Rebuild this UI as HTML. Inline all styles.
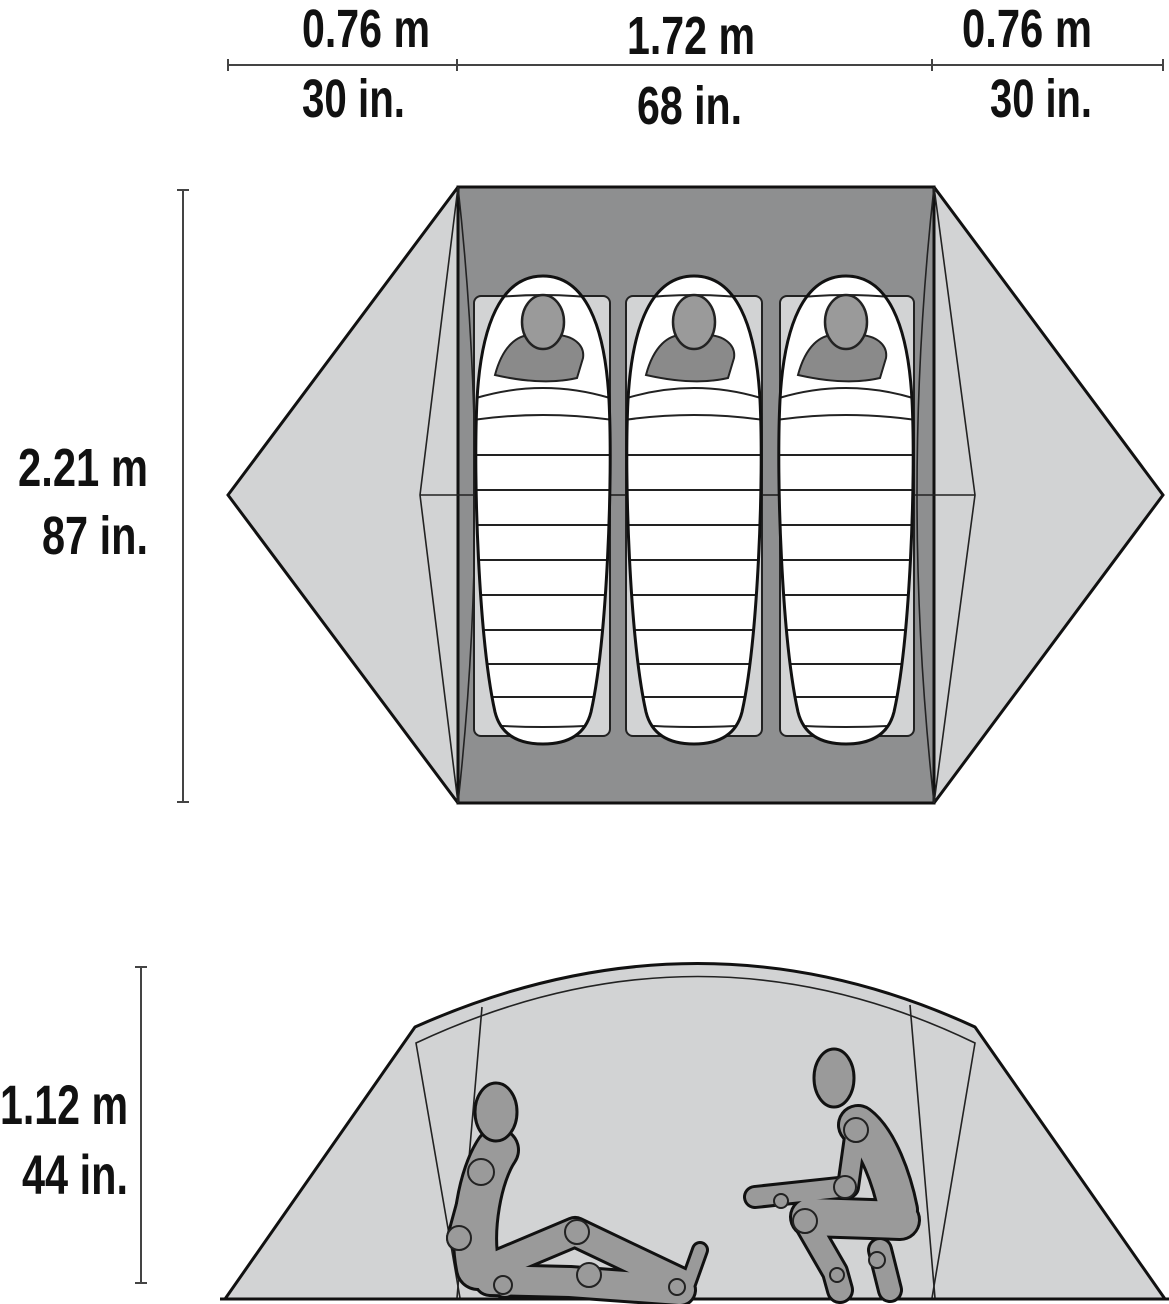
<!DOCTYPE html>
<html><head><meta charset="utf-8"><style>
html,body{margin:0;padding:0;background:#fff;}
svg{display:block;}
text{font-family:"Liberation Sans Narrow","Liberation Sans",sans-serif;font-weight:bold;fill:#111;}
</style></head><body>
<svg width="1169" height="1304" viewBox="0 0 1169 1304" xmlns="http://www.w3.org/2000/svg">
<defs>
<path id="bag" d="M0,276 C42,276 62,325 66,400 C70,480 64,640 48,712 Q40,744 0,744 Q-40,744 -48,712 C-64,640 -70,480 -66,400 C-62,325 -42,276 0,276 Z"/>
<clipPath id="bc" clipPathUnits="userSpaceOnUse"><use href="#bag"/></clipPath>
<g id="bagg">
  <use href="#bag" fill="#fff"/>
  <g clip-path="url(#bc)" stroke="#222" stroke-width="2" fill="none">
    <path d="M-70,300 Q0,290 70,300"/>
    <path d="M-70,420 Q0,410 70,420"/>
    <path d="M-70,455 L70,455"/>
    <path d="M-70,490 L70,490"/>
    <path d="M-70,525 L70,525"/>
    <path d="M-70,560 L70,560"/>
    <path d="M-70,595 L70,595"/>
    <path d="M-70,630 L70,630"/>
    <path d="M-70,664 L70,664"/>
    <path d="M-70,697 L70,697"/>
    <path d="M-70,724 Q0,730 70,724"/>
    <path d="M-48,375 C-40,345 -25,335 -12,335 L12,335 C30,335 42,345 40,358 L34,378 Q0,386 -48,375 Z" fill="#8a8a8a"/>
    <path d="M-67,398 Q0,378 67,398" />
  </g>
  <ellipse cx="0" cy="322" rx="21" ry="27" fill="#9a9a9a" stroke="#222" stroke-width="2.5"/>
  <use href="#bag" fill="none" stroke="#111" stroke-width="3"/>
</g>
</defs>

<g stroke="#444" stroke-width="2" fill="none">
<line x1="228" y1="65" x2="1163" y2="65"/>
<line x1="228" y1="59" x2="228" y2="71"/><line x1="457" y1="59" x2="457" y2="71"/>
<line x1="932" y1="59" x2="932" y2="71"/><line x1="1163" y1="59" x2="1163" y2="71"/>
<line x1="183" y1="190" x2="183" y2="802"/>
<line x1="177" y1="190" x2="189" y2="190"/><line x1="177" y1="802" x2="189" y2="802"/>
<line x1="141" y1="967" x2="141" y2="1283"/>
<line x1="135" y1="967" x2="147" y2="967"/><line x1="135" y1="1283" x2="147" y2="1283"/>
</g>
<text x="302" y="47" font-size="54" textLength="128" lengthAdjust="spacingAndGlyphs">0.76 m</text>
<text x="302" y="117" font-size="54" textLength="103" lengthAdjust="spacingAndGlyphs">30 in.</text>
<text x="627" y="54" font-size="54" textLength="128" lengthAdjust="spacingAndGlyphs">1.72 m</text>
<text x="637" y="124" font-size="54" textLength="105" lengthAdjust="spacingAndGlyphs">68 in.</text>
<text x="962" y="47" font-size="54" textLength="130" lengthAdjust="spacingAndGlyphs">0.76 m</text>
<text x="990" y="117" font-size="54" textLength="102" lengthAdjust="spacingAndGlyphs">30 in.</text>
<text x="18" y="486" font-size="54" textLength="130" lengthAdjust="spacingAndGlyphs">2.21 m</text>
<text x="42" y="554" font-size="54" textLength="106" lengthAdjust="spacingAndGlyphs">87 in.</text>
<text x="0" y="1124" font-size="56" textLength="128" lengthAdjust="spacingAndGlyphs">1.12 m</text>
<text x="22" y="1194" font-size="56" textLength="106" lengthAdjust="spacingAndGlyphs">44 in.</text>

<polygon points="228,495 458,187 934,187 1163,495 934,803 458,803" fill="#d2d3d4" stroke="#111" stroke-width="3"/>
<rect x="458" y="187" width="476" height="616" fill="#8e8f90" stroke="#111" stroke-width="3"/>
<g stroke="#222" stroke-width="1.6" fill="none">
<path d="M458,187 L420,495 L458,803"/>
<path d="M934,187 L975,495 L934,803"/>
<path d="M458,187 Q492,495 458,803"/>
<path d="M934,187 Q900,495 934,803"/>
<line x1="420" y1="495" x2="975" y2="495"/>
</g>
<g fill="#d2d3d4" stroke="#222" stroke-width="2">
<rect x="474" y="296" width="136" height="440" rx="7"/>
<rect x="626" y="296" width="136" height="440" rx="7"/>
<rect x="780" y="296" width="134" height="440" rx="7"/>
</g>
<line x1="474" y1="495" x2="914" y2="495" stroke="#222" stroke-width="1.2"/>
<use href="#bagg" transform="translate(543,0)"/>
<use href="#bagg" transform="translate(694,0)"/>
<use href="#bagg" transform="translate(846,0)"/>

<path d="M225,1299 L415,1027 Q700,900 975,1027 L1165,1299 Z" fill="#d2d3d4" stroke="#111" stroke-width="3" stroke-linejoin="round"/>
<g stroke="#222" stroke-width="1.6" fill="none">
<path d="M460,1298 L416,1043 Q700,910 975,1043 L932,1298"/>
<path d="M482,1007 L457,1298"/>
<path d="M910,1005 L935,1298"/>
</g>
<line x1="220" y1="1299" x2="1169" y2="1299" stroke="#111" stroke-width="3"/>

<g stroke-linecap="round" stroke-linejoin="round" fill="none">
 <g stroke="#111">
  <path d="M497,1150 C480,1175 470,1230 478,1268" stroke-width="46"/>
  <path d="M480,1272 L575,1232 L680,1282" stroke-width="32"/>
  <path d="M490,1280 L570,1282 L680,1290" stroke-width="34"/>
  <path d="M478,1172 L460,1238 L505,1285" stroke-width="28"/>
  <path d="M685,1292 L700,1250" stroke-width="18"/>
 </g>
 <g stroke="#9a9a9a">
  <path d="M497,1150 C480,1175 470,1230 478,1268" stroke-width="40"/>
  <path d="M480,1272 L575,1232 L680,1282" stroke-width="26"/>
  <path d="M490,1280 L570,1282 L680,1290" stroke-width="28"/>
  <path d="M478,1172 L460,1238 L505,1285" stroke-width="22"/>
  <path d="M685,1292 L700,1250" stroke-width="12"/>
 </g>
</g>
<ellipse cx="496" cy="1112" rx="21" ry="29" fill="#9a9a9a" stroke="#111" stroke-width="3"/>
<g fill="#9a9a9a" stroke="#222" stroke-width="2">
<circle cx="481" cy="1172" r="13"/><circle cx="459" cy="1238" r="12"/><circle cx="577" cy="1232" r="12"/>
<circle cx="589" cy="1275" r="12"/><circle cx="503" cy="1285" r="9"/><circle cx="677" cy="1287" r="8"/>
</g>

<g stroke-linecap="round" stroke-linejoin="round" fill="none">
 <g stroke="#111">
  <path d="M858,1125 C878,1140 892,1180 898,1210" stroke-width="42"/>
  <path d="M900,1220 L810,1217" stroke-width="42"/>
  <path d="M805,1220 L835,1272 L840,1290" stroke-width="28"/>
  <path d="M880,1250 L890,1290" stroke-width="26"/>
  <path d="M856,1130 L848,1187 L755,1197" stroke-width="24"/>
 </g>
 <g stroke="#9a9a9a">
  <path d="M858,1125 C878,1140 892,1180 898,1210" stroke-width="36"/>
  <path d="M900,1220 L810,1217" stroke-width="36"/>
  <path d="M805,1220 L835,1272 L840,1290" stroke-width="22"/>
  <path d="M880,1250 L890,1290" stroke-width="20"/>
  <path d="M856,1130 L848,1187 L755,1197" stroke-width="18"/>
 </g>
</g>
<ellipse cx="834" cy="1078" rx="20" ry="29" fill="#9a9a9a" stroke="#111" stroke-width="3"/>
<g fill="#9a9a9a" stroke="#222" stroke-width="2">
<circle cx="856" cy="1130" r="12"/><circle cx="845" cy="1187" r="11"/><circle cx="805" cy="1221" r="12"/>
<circle cx="781" cy="1201" r="7"/><circle cx="877" cy="1260" r="8"/><circle cx="837" cy="1275" r="7"/>
</g>
</svg>
</body></html>
